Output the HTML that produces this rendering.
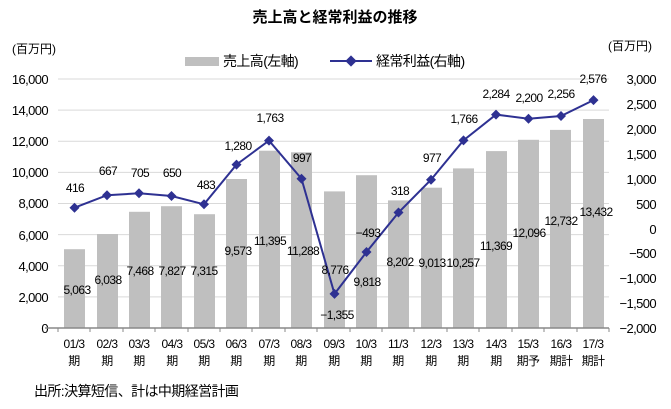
<!DOCTYPE html>
<html><head><meta charset="utf-8"><style>
body{margin:0;background:#fff}
svg text{font-family:"Liberation Sans","Noto Sans CJK JP",sans-serif;fill:#000}
.c{letter-spacing:-0.6px}
</style></head><body>
<svg width="671" height="404" viewBox="0 0 671 404" xmlns="http://www.w3.org/2000/svg">
<text x="335" y="22" font-size="15" font-weight="bold" text-anchor="middle">売上高と経常利益の推移</text>
<text x="12" y="53" font-size="12">(百万円)</text>
<text x="608" y="50" font-size="12">(百万円)</text>
<rect x="185" y="57" width="34" height="9" fill="#bfbfbf"/>
<text x="223" y="66" font-size="14" class="c">売上高(左軸)</text>
<line x1="330" y1="61" x2="372" y2="61" stroke="#2e3192" stroke-width="2"/>
<rect x="347" y="57" width="8" height="8" fill="#2e3192" transform="rotate(45 351 61)"/>
<text x="376" y="66" font-size="14" class="c">経常利益(右軸)</text>
<g stroke="#d9d9d9" stroke-width="1">
<line x1="58" y1="79" x2="609" y2="79"/><line x1="58" y1="110.1" x2="609" y2="110.1"/>
<line x1="58" y1="141.3" x2="609" y2="141.3"/><line x1="58" y1="172.4" x2="609" y2="172.4"/>
<line x1="58" y1="203.5" x2="609" y2="203.5"/><line x1="58" y1="234.6" x2="609" y2="234.6"/>
<line x1="58" y1="265.8" x2="609" y2="265.8"/><line x1="58" y1="296.9" x2="609" y2="296.9"/>
</g>
<g font-size="13" text-anchor="end" class="c">
<text x="48" y="84">16,000</text><text x="48" y="115">14,000</text><text x="48" y="146">12,000</text>
<text x="48" y="177">10,000</text><text x="48" y="208">8,000</text><text x="48" y="240">6,000</text>
<text x="48" y="271">4,000</text><text x="48" y="302">2,000</text><text x="48" y="333">0</text>
</g>
<g font-size="13" text-anchor="end" class="c">
<text x="656" y="84">3,000</text><text x="656" y="109">2,500</text><text x="656" y="134">2,000</text>
<text x="656" y="159">1,500</text><text x="656" y="184">1,000</text><text x="656" y="209">500</text>
<text x="656" y="234">0</text><text x="656" y="258">−500</text><text x="656" y="283">−1,000</text>
<text x="656" y="308">−1,500</text><text x="656" y="333">−2,000</text>
</g>
<g fill="#bfbfbf">
<rect x="64" y="249.2" width="21" height="78.8"/>
<rect x="97" y="234" width="21" height="94"/>
<rect x="129" y="211.8" width="21" height="116.2"/>
<rect x="161" y="206.2" width="21" height="121.8"/>
<rect x="194" y="214.2" width="21" height="113.8"/>
<rect x="226" y="179" width="21" height="149"/>
<rect x="259" y="150.7" width="21" height="177.3"/>
<rect x="291" y="152.3" width="21" height="175.7"/>
<rect x="324" y="191.4" width="21" height="136.6"/>
<rect x="356" y="175.2" width="21" height="152.8"/>
<rect x="388" y="200.4" width="21" height="127.6"/>
<rect x="421" y="187.7" width="21" height="140.3"/>
<rect x="453" y="168.4" width="21" height="159.6"/>
<rect x="486" y="151.1" width="21" height="176.9"/>
<rect x="518" y="139.8" width="21" height="188.2"/>
<rect x="550" y="129.9" width="21" height="198.1"/>
<rect x="583" y="119" width="21" height="209"/>
</g>
<line x1="45" y1="328" x2="609" y2="328" stroke="#888" stroke-width="1.5"/>
<g stroke="#888"><line x1="58" y1="328" x2="58" y2="332"/><line x1="90" y1="328" x2="90" y2="332"/><line x1="123" y1="328" x2="123" y2="332"/><line x1="155" y1="328" x2="155" y2="332"/><line x1="188" y1="328" x2="188" y2="332"/><line x1="220" y1="328" x2="220" y2="332"/><line x1="252" y1="328" x2="252" y2="332"/><line x1="285" y1="328" x2="285" y2="332"/><line x1="317" y1="328" x2="317" y2="332"/><line x1="350" y1="328" x2="350" y2="332"/><line x1="382" y1="328" x2="382" y2="332"/><line x1="414" y1="328" x2="414" y2="332"/><line x1="447" y1="328" x2="447" y2="332"/><line x1="479" y1="328" x2="479" y2="332"/><line x1="512" y1="328" x2="512" y2="332"/><line x1="544" y1="328" x2="544" y2="332"/><line x1="577" y1="328" x2="577" y2="332"/><line x1="609" y1="328" x2="609" y2="332"/></g>
<polyline fill="none" stroke="#2e3192" stroke-width="2" points="74.5,207.7 107,195.2 139,193.3 171.5,196 204,204.3 236.5,164.6 269,140.6 301.5,178.7 334.5,293.9 366.5,252 398.5,212.5 431,179.7 463.5,140.4 496,114.6 528.5,118.8 561,116 593.5,100.1"/>
<g fill="#2e3192">
<path d="M74.5 202.7l5 5-5 5-5-5z"/><path d="M107 190.2l5 5-5 5-5-5z"/><path d="M139 188.3l5 5-5 5-5-5z"/><path d="M171.5 191l5 5-5 5-5-5z"/><path d="M204 199.3l5 5-5 5-5-5z"/><path d="M236.5 159.6l5 5-5 5-5-5z"/><path d="M269 135.6l5 5-5 5-5-5z"/><path d="M301.5 173.7l5 5-5 5-5-5z"/><path d="M334.5 288.9l5 5-5 5-5-5z"/><path d="M366.5 247l5 5-5 5-5-5z"/><path d="M398.5 207.5l5 5-5 5-5-5z"/><path d="M431 174.7l5 5-5 5-5-5z"/><path d="M463.5 135.4l5 5-5 5-5-5z"/><path d="M496 109.6l5 5-5 5-5-5z"/><path d="M528.5 113.8l5 5-5 5-5-5z"/><path d="M561 111l5 5-5 5-5-5z"/><path d="M593.5 95.1l5 5-5 5-5-5z"/>
</g>
<g font-size="12" text-anchor="middle" class="c">
<text x="75" y="192">416</text><text x="108" y="175">667</text><text x="140" y="177">705</text><text x="172" y="177">650</text><text x="206" y="189">483</text><text x="238" y="150">1,280</text><text x="270" y="122">1,763</text><text x="302" y="162">997</text><text x="337" y="319">−1,355</text><text x="368" y="237">−493</text><text x="400" y="195">318</text><text x="432" y="162">977</text><text x="464" y="123">1,766</text><text x="496" y="98">2,284</text><text x="529" y="102">2,200</text><text x="561" y="98">2,256</text><text x="593" y="83">2,576</text>
<text x="77" y="294">5,063</text><text x="108" y="284">6,038</text><text x="140" y="275">7,468</text><text x="172" y="275">7,827</text><text x="204" y="275">7,315</text><text x="238" y="255">9,573</text><text x="270" y="245">11,395</text><text x="303" y="255">11,288</text><text x="335" y="274">8,776</text><text x="367" y="286">9,818</text><text x="400" y="266">8,202</text><text x="432" y="267">9,013</text><text x="463" y="267">10,257</text><text x="496" y="250">11,369</text><text x="529" y="237">12,096</text><text x="561" y="225">12,732</text><text x="596" y="216">13,432</text>
</g>
<g font-size="12" text-anchor="middle" class="c">
<text x="74" y="348">01/3</text><text x="107" y="348">02/3</text><text x="139" y="348">03/3</text><text x="172" y="348">04/3</text><text x="204" y="348">05/3</text><text x="236" y="348">06/3</text><text x="269" y="348">07/3</text><text x="301" y="348">08/3</text><text x="334" y="348">09/3</text><text x="366" y="348">10/3</text><text x="398" y="348">11/3</text><text x="431" y="348">12/3</text><text x="463" y="348">13/3</text><text x="496" y="348">14/3</text><text x="528" y="348">15/3</text><text x="561" y="348">16/3</text><text x="593" y="348">17/3</text>
<text x="74" y="365">期</text><text x="107" y="365">期</text><text x="139" y="365">期</text><text x="172" y="365">期</text><text x="204" y="365">期</text><text x="236" y="365">期</text><text x="269" y="365">期</text><text x="301" y="365">期</text><text x="334" y="365">期</text><text x="366" y="365">期</text><text x="398" y="365">期</text><text x="431" y="365">期</text><text x="463" y="365">期</text><text x="496" y="365">期</text><text x="528" y="365">期予</text><text x="561" y="365">期計</text><text x="593" y="365">期計</text>
</g>
<text x="34" y="396" font-size="14" class="c">出所:決算短信、計は中期経営計画</text>
</svg>
</body></html>
